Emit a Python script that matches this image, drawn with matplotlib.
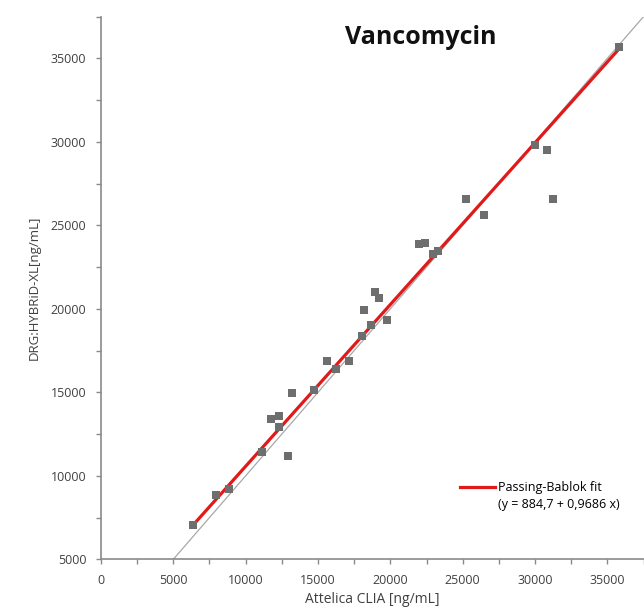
import numpy as np
import matplotlib
matplotlib.use('Agg')
import matplotlib.pyplot as plt
from matplotlib.lines import Line2D
from matplotlib.ticker import MultipleLocator

plt.rcParams['font.family'] = ['Open Sans', 'DejaVu Sans']

# ─── Dados ────────────────────────────────────────────────────────────────────
attelica = [6350, 7950, 8850, 11150, 11750, 12300, 12300, 12950, 13200, 14750,
            15650, 16250, 17150, 18050, 18150, 18650, 18950, 19200, 19750, 22000,
            22400, 22950, 23300, 25200, 26450, 30000, 30800, 31250, 35800]
hybrid = [7050, 8850, 9200, 11400, 13400, 13600, 12950, 11200, 14950, 15150,
          16850, 16400, 16900, 18350, 19900, 19050, 21000, 20650, 19350, 23900,
          23950, 23300, 23450, 26600, 25600, 29800, 29500, 26550, 35650]

pb_intercept = 884.7
pb_slope = 0.9686
x_range = (0, 37500)
y_range = (5000, 37500)

# ─── Figura ───────────────────────────────────────────────────────────────────
fig = plt.figure(figsize=(6.44, 6.12), dpi=100)
ax = fig.add_axes([0.1568, 0.0861, 0.8425, 0.8868])

# linha de identidade
ident = np.array([y_range[0], x_range[1]])
ax.plot(ident, ident, color='#a8a8a8', linewidth=0.9, zorder=1)

# ajuste Passing-Bablok
xf = np.array([min(attelica), max(attelica)])
ax.plot(xf, pb_intercept + pb_slope * xf, color='#e01a1a', linewidth=2.3, zorder=2)

ax.scatter(attelica, hybrid, marker='s', s=26, color='#6e6e6e', linewidths=0, zorder=3)

ax.set_xlim(*x_range)
ax.set_ylim(*y_range)
ax.xaxis.set_major_locator(MultipleLocator(5000))
ax.xaxis.set_minor_locator(MultipleLocator(2500))
ax.yaxis.set_major_locator(MultipleLocator(5000))
ax.yaxis.set_minor_locator(MultipleLocator(2500))

for side in ['top', 'right']:
    ax.spines[side].set_visible(False)
for side in ['left', 'bottom']:
    ax.spines[side].set_color('#8a8a8a')
    ax.spines[side].set_linewidth(1.2)

ax.tick_params(which='both', direction='out', length=3.5, width=1, color='#8a8a8a')
ax.tick_params(axis='both', which='major', labelsize=9, labelcolor='#404040', pad=7)

ax.set_xlabel('Attelica CLIA [ng/mL]', fontsize=10, color='#404040', labelpad=4)
ax.set_ylabel('DRG:HYBRiD-XL[ng/mL]', fontsize=9.5, color='#404040', labelpad=7)

fig.text(421 / 644, 1 - 38 / 612, 'Vancomycin', fontsize=18, fontweight='bold',
         ha='center', va='center', color='#111111')

handles = [Line2D([], [], color='#e01a1a', linewidth=2.3),
           Line2D([], [], color='none')]
labels = ['Passing-Bablok fit', '(y = 884,7 + 0,9686 x)']
ax.legend(handles, labels, loc='upper left', bbox_to_anchor=(460 / 644, 1 - 481 / 612),
          bbox_transform=fig.transFigure, frameon=False, fontsize=9,
          handlelength=2.8, handletextpad=0.25, labelspacing=0.3,
          borderpad=0, borderaxespad=0)

plt.savefig('out.png', dpi=100)
plt.close()
